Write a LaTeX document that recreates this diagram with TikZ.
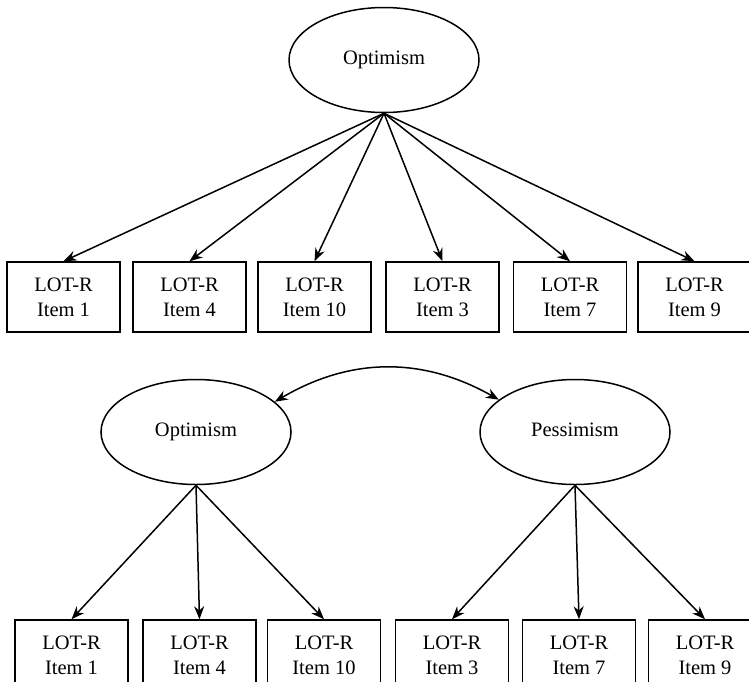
\documentclass[tikz,border=0pt]{standalone}
\usepackage{fontspec}
\setmainfont{Liberation Serif}
\usetikzlibrary{arrows.meta,shapes.geometric,positioning}

\begin{document}
\begin{tikzpicture}[x=1pt, y=-1pt,
    latent/.style={draw, ellipse, line width=1.5pt, inner sep=0pt,
        text height=14pt, text depth=4.5pt,
        minimum width=190pt, minimum height=105pt, font=\fontsize{20.5}{25}\selectfont},
    itembox/.style={draw, rectangle, line width=1.5pt, inner sep=0pt, align=center,
        minimum width=113pt, minimum height=70pt, font=\fontsize{20.5}{25}\selectfont},
    load/.style={-{Stealth[length=13pt, width=10pt]}, line width=1.5pt}]
    \useasboundingbox (0, 0) rectangle (749, 681);
    \clip (0, 0) rectangle (749, 681);

    % One-factor model
    \node[latent] (opt) at (384, 60) {Optimism};
    \node[itembox] (a1) at (63.5, 297) {LOT-R\\Item 1};
    \node[itembox] (a4) at (189.5, 297) {LOT-R\\Item 4};
    \node[itembox] (a10) at (314.5, 297) {LOT-R\\Item 10};
    \node[itembox] (a3) at (442.5, 297) {LOT-R\\Item 3};
    \node[itembox] (a7) at (570, 297) {LOT-R\\Item 7};
    \node[itembox] (a9) at (694.5, 297) {LOT-R\\Item 9};
    \foreach \k in {a1, a4, a10, a3, a7, a9}
        \draw[load] (opt.south) -- (\k.north);

    % Two-factor model
    \node[latent] (opt2) at (196, 432) {Optimism};
    \node[latent] (pes2) at (575, 432) {Pessimism};
    \draw[{Stealth[length=13pt, width=10pt]}-{Stealth[length=13pt, width=10pt]}, line width=1.5pt]
        (opt2.21) to[bend left=30] (pes2.157);
    \node[itembox] (b1) at (71.5, 655) {LOT-R\\Item 1};
    \node[itembox] (b4) at (199.5, 655) {LOT-R\\Item 4};
    \node[itembox] (b10) at (324, 655) {LOT-R\\Item 10};
    \node[itembox] (b3) at (452, 655) {LOT-R\\Item 3};
    \node[itembox] (b7) at (579, 655) {LOT-R\\Item 7};
    \node[itembox] (b9) at (705, 655) {LOT-R\\Item 9};
    \foreach \k in {b1, b4, b10}
        \draw[load] (opt2.south) -- (\k.north);
    \foreach \k in {b3, b7, b9}
        \draw[load] (pes2.south) -- (\k.north);
\end{tikzpicture}
\end{document}
